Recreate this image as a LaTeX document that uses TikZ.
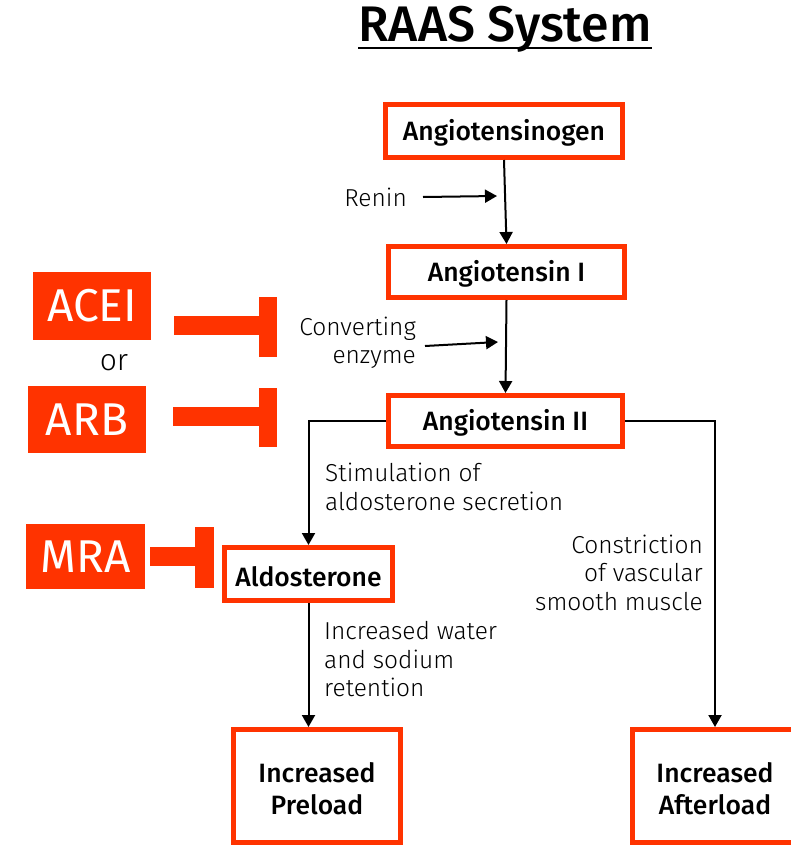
\documentclass[tikz,border=0pt]{standalone}
\usepackage{fontspec}
\setmainfont{Fira Sans}
\newfontfamily\lt{Fira Sans Light}
\newfontfamily\md{Fira Sans Medium}
\usetikzlibrary{arrows.meta}
\definecolor{oR}{HTML}{FF3300}
\newcommand\dn{\rule{0pt}{25pt}}
\tikzset{
  box/.style={draw=oR, line width=5pt, fill=white, inner sep=0pt, font=\md\fontsize{26.5}{32}\selectfont, align=center},
  drug/.style={fill=oR, text=white, inner sep=0pt, font=\fontsize{46}{50}\selectfont},
  lbl/.style={inner sep=0pt, font=\lt\fontsize{24.5}{28.5}\selectfont},
  arr/.style={line width=2pt, -{Triangle[length=12pt,width=13pt]}},
}
\begin{document}
\begin{tikzpicture}[x=1pt,y=-1pt]
\useasboundingbox (0,0) rectangle (791,846);
% title
\node (title) at (505,29) [inner sep=0pt, font=\md\fontsize{50}{54}\selectfont] {RAAS System};
\draw[line width=2pt] (358,48) -- (652,48);
% boxes
\node[box, minimum width=237pt, minimum height=53pt] (ang) at (504,131) {\dn Angiotensinogen};
\node[box, minimum width=236pt, minimum height=51pt] (ang1) at (506.5,272) {\dn Angiotensin I};
\node[box, minimum width=234pt, minimum height=51pt] (ang2) at (505.5,421) {\dn Angiotensin II};
\node[box, minimum width=168pt, minimum height=53pt] (ald) at (308.5,574) {\dn Aldosterone};
\node[box, minimum width=167pt, minimum height=113pt] (pre) at (317,786) {\dn Increased\\Preload};
\node[box, minimum width=165pt, minimum height=113pt] (aft) at (715,786) {\dn Increased\\Afterload};
% drug boxes
\node[drug, minimum width=118pt, minimum height=68pt] (acei) at (92,306) {ACEI};
\node[drug, minimum width=118pt, minimum height=67pt] (arb) at (87,419.5) {ARB};
\node[drug, minimum width=119pt, minimum height=65pt] (mra) at (85.5,556.5) {MRA};
\node (or) at (114,363) [inner sep=0pt, font=\lt\fontsize{30}{34}\selectfont] {or};
% inhibitor bars
\fill[oR] (174,316) rectangle (260,335);
\fill[oR] (259,297) rectangle (277,357);
\fill[oR] (173,407) rectangle (260,426);
\fill[oR] (259,388) rectangle (277,447);
\fill[oR] (150,547) rectangle (196,566);
\fill[oR] (195,527) rectangle (214,588);
% labels
\node[lbl, anchor=east] (renin) at (407,197) {Renin};
\node[lbl, anchor=east, align=right] (conv) at (416,343) {Converting\\enzyme};
\node[lbl, anchor=west, align=left] (stim) at (325,487) {Stimulation of\\aldosterone secretion};
\node[lbl, anchor=west, align=left] (water) at (324,659.5) {Increased water\\and sodium\\retention};
\node[lbl, anchor=east, align=right] (constr) at (703,572.5) {Constriction\\of vascular\\smooth muscle};
% connectors
\coordinate (rn) at (497,196);
\coordinate (cv) at (498,342);
\draw[arr] ([xshift=16pt]renin.east) -- (rn);
\draw[arr] ([xshift=9pt,yshift=-3pt]conv.east) -- (cv);
\draw[arr] (ang.south) -- (ang1.north);
\draw[arr] (ang1.south) -- (ang2.north);
\draw[arr] (ang2.west) -| (ald.north);
\draw[arr] (ang2.east) -| (aft.north);
\draw[arr] (ald.south) -- (ald.south |- pre.north);
\end{tikzpicture}
\end{document}
